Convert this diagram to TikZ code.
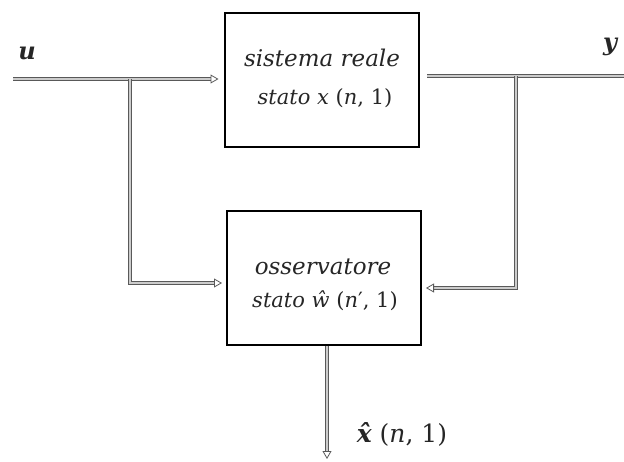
\documentclass[tikz,border=0pt]{standalone}
\usepackage{fontspec}
\setmainfont{DejaVu Serif}
\usetikzlibrary{arrows.meta}
\tikzset{
  blk/.style={draw=black, line width=2pt, minimum width=194pt, minimum height=134pt, inner sep=0pt},
  dbl/.style={draw=black!65, double=gray!40, double distance=2.6pt, line width=0.8pt},
  dtip/.style={-{Triangle[open,length=8pt,width=9pt,line width=0.8pt]}},
  lbl/.style={text=black!85, inner sep=0pt}
}
\begin{document}
\begin{tikzpicture}[x=1pt,y=-1pt]
\useasboundingbox (0,0) rectangle (624,461);
\node[blk] (sys) at (321.5,79.5) {};
\node[blk] (obs) at (324,278) {};
\node[lbl] (t1) at (322,58) {\fontsize{23}{26}\selectfont\itshape sistema reale};
\node[lbl] (t2) at (325,98) {\fontsize{21}{24}\selectfont\textit{stato x} (\textit{n}, 1)};
\node[lbl] (t3) at (323,267) {\fontsize{23}{26}\selectfont\itshape osservatore};
\node[lbl] (t4) at (325,301) {\fontsize{21}{24}\selectfont\textit{stato ŵ} (\textit{n}′, 1)};
\node[lbl] (ul) at (27,53) {\fontsize{24}{28}\selectfont\bfseries\itshape u};
\node[lbl] (yl) at (610,47) {\fontsize{24}{28}\selectfont\bfseries\itshape y};
\node[lbl] (xl) at (402,434) {\fontsize{25}{28}\selectfont\textbf{\textit{x̂}} (\textit{n}, 1)};
\coordinate (us) at (13,79);
\coordinate (uj) at (130,79);
\coordinate (uc) at (130,283);
\coordinate (ys) at (427,76);
\coordinate (ye) at (624,76);
\coordinate (yj) at (516,76);
\coordinate (yc) at (516,288);
\coordinate (oe) at (327,461);
\draw[dbl,dtip,shorten >=5pt] (us) -- (sys.west |- us);
\draw[dbl,dtip,shorten >=4pt] (uj) -- (uc) -- (obs.west |- uc);
\draw[dbl] (ys) -- (ye);
\draw[dbl,dtip,shorten >=4pt] (yj) -- (yc) -- (obs.east |- yc);
\draw[dbl,dtip,shorten >=2pt] (obs.south -| oe) -- (oe);
\end{tikzpicture}
\end{document}
